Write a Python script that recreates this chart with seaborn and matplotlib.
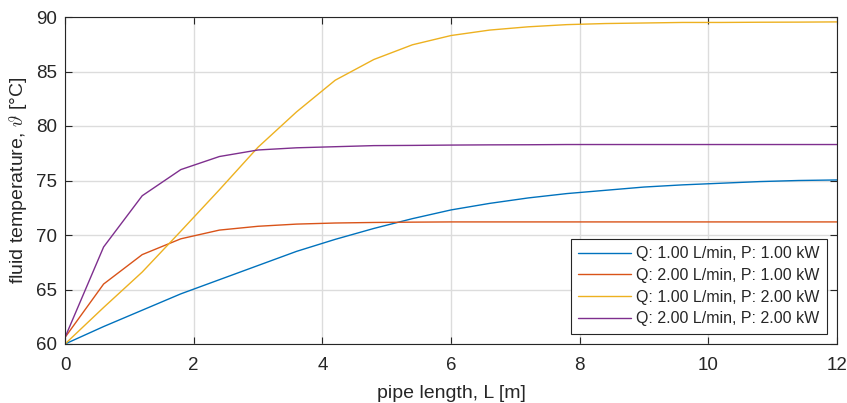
import numpy as np
import pandas as pd
import matplotlib
matplotlib.use("Agg")
import matplotlib.pyplot as plt
import seaborn as sns

# pipe length samples [m]
length = [0.0, 0.6, 1.2, 1.8, 2.4, 3.0, 3.6, 4.2, 4.8, 5.4, 6.0,
          6.6, 7.2, 7.8, 8.4, 9.0, 9.6, 10.2, 10.8, 11.4, 12.0]

# fluid temperature readings [degC]
t_q1_p1 = [60.0, 61.6, 63.1, 64.6, 65.9, 67.2, 68.5, 69.6, 70.6, 71.5, 72.3,
           72.9, 73.4, 73.8, 74.1, 74.4, 74.6, 74.75, 74.9, 75.0, 75.05]
t_q2_p1 = [60.6, 65.5, 68.2, 69.65, 70.45, 70.8, 71.0, 71.1, 71.15, 71.18, 71.2,
           71.2, 71.2, 71.2, 71.2, 71.2, 71.2, 71.2, 71.2, 71.2, 71.2]
t_q1_p2 = [60.0, 63.35, 66.6, 70.35, 74.15, 78.05, 81.3, 84.2, 86.1, 87.45, 88.3,
           88.8, 89.1, 89.3, 89.4, 89.45, 89.5, 89.5, 89.52, 89.53, 89.55]
t_q2_p2 = [60.6, 68.9, 73.6, 76.0, 77.2, 77.8, 78.0, 78.1, 78.2, 78.22, 78.25,
           78.27, 78.28, 78.3, 78.3, 78.3, 78.3, 78.3, 78.3, 78.3, 78.3]

labels = ["Q: 1.00 L/min, P: 1.00 kW",
          "Q: 2.00 L/min, P: 1.00 kW",
          "Q: 1.00 L/min, P: 2.00 kW",
          "Q: 2.00 L/min, P: 2.00 kW"]
colors = ["#0072BD", "#D95319", "#EDB120", "#7E2F8E"]

series = [t_q1_p1, t_q2_p1, t_q1_p2, t_q2_p2]
df = pd.concat([pd.DataFrame({"L": length, "T": s, "case": lab})
                for s, lab in zip(series, labels)], ignore_index=True)

sns.set_style("ticks")
plt.rcParams['font.family'] = ['Liberation Sans', 'DejaVu Sans']
plt.rcParams['mathtext.fontset'] = 'cm'

fig = plt.figure(figsize=(8.47, 4.03), dpi=100)
ax = fig.add_axes([65 / 847, 1 - 344 / 403, 772 / 847, 327 / 403])

sns.lineplot(data=df, x="L", y="T", hue="case", palette=colors,
             linewidth=1.0, ax=ax, sort=False)

ax.set_xlim(0, 12)
ax.set_ylim(60, 90)
ax.set_xticks(np.arange(0, 13, 2))
ax.set_yticks(np.arange(60, 91, 5))
ax.grid(True, color="#dcdcdc", linewidth=1.0)
ax.set_axisbelow(True)
ax.tick_params(direction="in", top=True, right=True, labelsize=13.5,
               colors="#262626", length=5, width=0.8)
ax.tick_params(axis="x", pad=9.5)
ax.tick_params(axis="y", pad=5.5)
for sp in ax.spines.values():
    sp.set_visible(True)
    sp.set_color("#262626")
    sp.set_linewidth(0.8)

ax.set_xlabel("pipe length, L [m]", fontsize=14, color="#262626", labelpad=8)
ax.set_ylabel(r"fluid temperature, $\vartheta$ [°C]", fontsize=14,
              color="#262626", labelpad=5)

leg = ax.legend(loc="lower right", fontsize=11.5, frameon=True, fancybox=False,
                borderaxespad=0.65, handlelength=3.3, handletextpad=0.3,
                labelspacing=0.42, borderpad=0.45)
leg.get_frame().set_edgecolor("#262626")
leg.get_frame().set_linewidth(0.8)
leg.get_frame().set_alpha(1.0)

fig.savefig("out.png", dpi=100)
